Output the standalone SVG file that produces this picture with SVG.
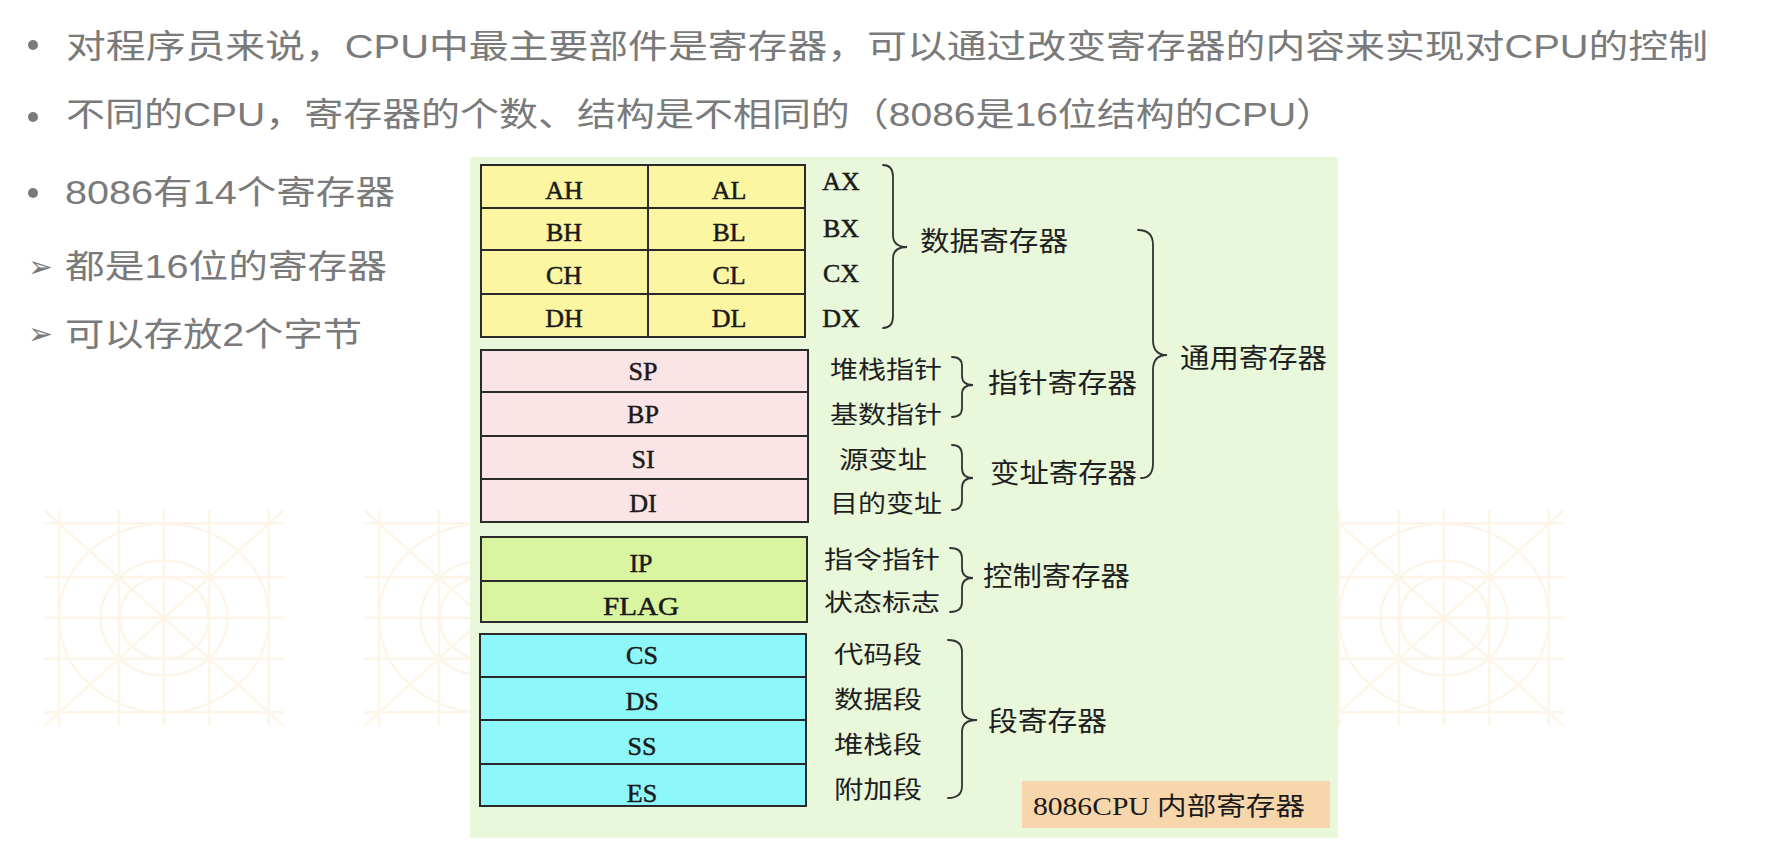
<svg xmlns="http://www.w3.org/2000/svg" width="1772" height="842" viewBox="0 0 1772 842">
<style>
.wm{fill:none;stroke:#fef5e8;stroke-width:2.5}
.bt{font-family:"Liberation Sans","Noto Sans CJK SC",sans-serif;font-size:33px;fill:#7a7a7a}
.reg{font-family:"Liberation Serif","Noto Sans CJK SC",serif;font-size:26px;fill:#1a1a1a;stroke:#1a1a1a;stroke-width:0.5;text-anchor:middle}
.lab{font-family:"Noto Sans CJK SC",sans-serif;font-size:24px;fill:#1f1f1f}
.grp{font-family:"Noto Sans CJK SC",sans-serif;font-size:27px;fill:#1f1f1f}
.cell{stroke:#2a2a2a;stroke-width:2}
.br{fill:none;stroke:#333;stroke-width:1.8;stroke-linecap:round}
.arr{font-family:"DejaVu Sans",sans-serif;font-size:30px;fill:#7a7a7a}
</style>
<defs>
<g id="tile">
<path class="wm" d="M0,13.3H240M0,67.3H240M0,107.7H240M0,148.7H240M0,202.3H240M15,0V216M75,0V216M119.7,0V216M165,0V216M224.7,0V216M0,0L240,216M240,0L0,216"/>
<ellipse class="wm" cx="120" cy="108" rx="105" ry="94.5"/>
<ellipse class="wm" cx="120" cy="108" rx="63.5" ry="57.5"/>
<ellipse class="wm" cx="120" cy="108" rx="44.5" ry="41"/>
</g>
</defs>
<rect width="1772" height="842" fill="#ffffff"/>
<g id="watermark">
<use href="#tile" x="44" y="510"/>
<use href="#tile" x="364" y="510"/>
<use href="#tile" x="684" y="510"/>
<use href="#tile" x="1004" y="510"/>
<use href="#tile" x="1324" y="510"/>
</g>
<g id="bullets">
<circle cx="33" cy="45" r="5" fill="#7a7a7a"/>
<text class="bt" x="66" y="58" textLength="1642" lengthAdjust="spacingAndGlyphs">对程序员来说，CPU中最主要部件是寄存器，可以通过改变寄存器的内容来实现对CPU的控制</text>
<circle cx="33" cy="117" r="5" fill="#7a7a7a"/>
<text class="bt" x="66" y="126" textLength="1269" lengthAdjust="spacingAndGlyphs">不同的CPU，寄存器的个数、结构是不相同的（8086是16位结构的CPU）</text>
<circle cx="33" cy="193" r="5" fill="#7a7a7a"/>
<text class="bt" x="65" y="204" textLength="330" lengthAdjust="spacingAndGlyphs">8086有14个寄存器</text>
<text class="arr" x="28" y="277" textLength="25" lengthAdjust="spacingAndGlyphs">➢</text>
<text class="bt" x="65" y="278" textLength="322" lengthAdjust="spacingAndGlyphs">都是16位的寄存器</text>
<text class="arr" x="28" y="344" textLength="25" lengthAdjust="spacingAndGlyphs">➢</text>
<text class="bt" x="65" y="346" textLength="297" lengthAdjust="spacingAndGlyphs">可以存放2个字节</text>
</g>
<rect id="panel" x="470" y="157" width="868" height="681" fill="#e9f8da"/>
<g id="data-registers">
<rect class="cell" x="481" y="165" width="324" height="172" fill="#fcf6a2"/>
<path class="cell" d="M481,208H805M481,250H805M481,294H805M648,165V337"/>
<text class="reg" x="564" y="199">AH</text><text class="reg" x="729" y="199">AL</text>
<text class="reg" x="564" y="241">BH</text><text class="reg" x="729" y="241">BL</text>
<text class="reg" x="564" y="284">CH</text><text class="reg" x="729" y="284">CL</text>
<text class="reg" x="564" y="327">DH</text><text class="reg" x="729" y="327">DL</text>
</g>
<g id="pointer-index-registers">
<rect class="cell" x="481" y="350" width="327" height="172" fill="#fae4e5"/>
<path class="cell" d="M481,392H808M481,436H808M481,479H808"/>
<text class="reg" x="643" y="380">SP</text>
<text class="reg" x="643" y="423">BP</text>
<text class="reg" x="643" y="468">SI</text>
<text class="reg" x="643" y="512">DI</text>
</g>
<g id="control-registers">
<rect class="cell" x="481" y="537" width="326" height="85" fill="#daf5a0"/>
<path class="cell" d="M481,581H807"/>
<text class="reg" x="641" y="572">IP</text>
<text class="reg" x="641" y="615" textLength="76" lengthAdjust="spacingAndGlyphs">FLAG</text>
</g>
<g id="segment-registers">
<rect class="cell" x="480" y="634" width="326" height="172" fill="#8ef7fa"/>
<path class="cell" d="M480,677H806M480,720H806M480,764H806"/>
<text class="reg" x="642" y="664">CS</text>
<text class="reg" x="642" y="710">DS</text>
<text class="reg" x="642" y="755">SS</text>
<text class="reg" x="642" y="802">ES</text>
</g>
<g id="labels">
<text class="reg" x="841" y="190">AX</text>
<text class="reg" x="841" y="237">BX</text>
<text class="reg" x="841" y="282">CX</text>
<text class="reg" x="841" y="327">DX</text>
<text class="lab" x="830" y="378" textLength="112" lengthAdjust="spacingAndGlyphs">堆栈指针</text>
<text class="lab" x="830" y="423" textLength="112" lengthAdjust="spacingAndGlyphs">基数指针</text>
<text class="lab" x="839" y="468" textLength="88" lengthAdjust="spacingAndGlyphs">源变址</text>
<text class="lab" x="830" y="512" textLength="112" lengthAdjust="spacingAndGlyphs">目的变址</text>
<text class="lab" x="824" y="568" textLength="116" lengthAdjust="spacingAndGlyphs">指令指针</text>
<text class="lab" x="824" y="611" textLength="116" lengthAdjust="spacingAndGlyphs">状态标志</text>
<text class="lab" x="834" y="663" textLength="88" lengthAdjust="spacingAndGlyphs">代码段</text>
<text class="lab" x="834" y="708" textLength="88" lengthAdjust="spacingAndGlyphs">数据段</text>
<text class="lab" x="834" y="753" textLength="88" lengthAdjust="spacingAndGlyphs">堆栈段</text>
<text class="lab" x="834" y="798" textLength="88" lengthAdjust="spacingAndGlyphs">附加段</text>
<text class="grp" x="920" y="251" textLength="148" lengthAdjust="spacingAndGlyphs">数据寄存器</text>
<text class="grp" x="1180" y="368" textLength="147" lengthAdjust="spacingAndGlyphs">通用寄存器</text>
<text class="grp" x="988" y="393" textLength="149" lengthAdjust="spacingAndGlyphs">指针寄存器</text>
<text class="grp" x="990" y="483" textLength="147" lengthAdjust="spacingAndGlyphs">变址寄存器</text>
<text class="grp" x="983" y="586" textLength="147" lengthAdjust="spacingAndGlyphs">控制寄存器</text>
<text class="grp" x="988" y="731" textLength="119" lengthAdjust="spacingAndGlyphs">段寄存器</text>
</g>
<g id="caption">
<rect x="1022" y="781" width="308" height="47" fill="#f8d6ab"/>
<text x="1033" y="815" font-family="Liberation Serif,'Noto Sans CJK SC',serif" font-size="25" fill="#1a1a1a" textLength="272" lengthAdjust="spacingAndGlyphs">8086CPU 内部寄存器</text>
</g>
<g id="connectors">
<path class="br" d="M883,165Q893,165 893,177L893,235Q893,247 907,247Q893,247 893,259L893,316Q893,328 883,328"/>
<path class="br" d="M1138,230Q1153,230 1153,245L1153,340Q1153,355 1167,355Q1153,355 1153,370L1153,463Q1153,478 1141,478"/>
<path class="br" d="M952,357Q962,357 962,366L962,376Q962,385 973,385Q962,385 962,394L962,408Q962,417 952,417"/>
<path class="br" d="M952,445Q962,445 962,455L962,468Q962,478 973,478Q962,478 962,488L962,500Q962,510 952,510"/>
<path class="br" d="M950,548Q962,548 962,558L962,568Q962,578 973,578Q962,578 962,588L962,602Q962,612 950,612"/>
<path class="br" d="M948,640Q962,640 962,652L962,708Q962,720 977,720Q962,720 962,732L962,786Q962,798 948,798"/>
</g>
</svg>
